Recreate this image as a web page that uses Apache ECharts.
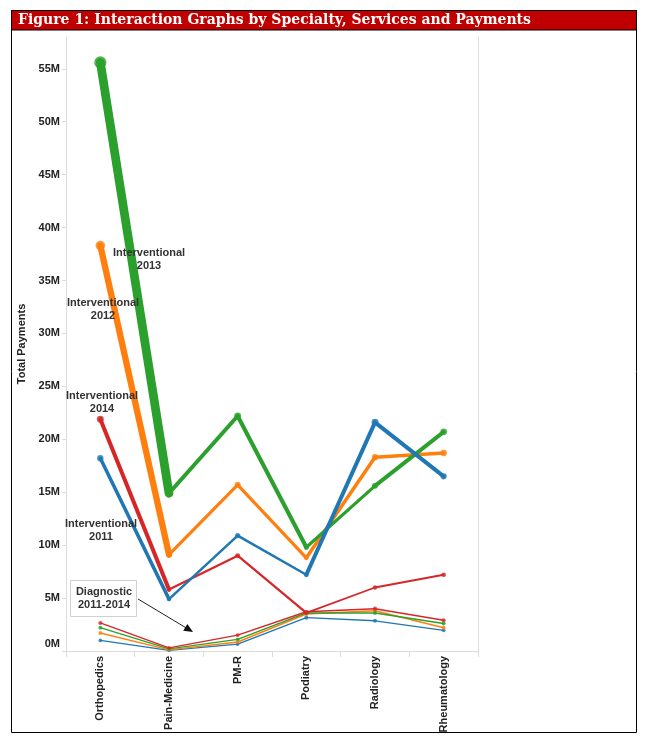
<!DOCTYPE html>
<html lang="en">
<head>
    <meta charset="UTF-8">
    <title>Interaction Graphs by Specialty, Services and Payments</title>
    <script src="https://cdn.jsdelivr.net/npm/echarts@6/dist/echarts.min.js"></script>
    <style>
        html, body { margin: 0; padding: 0; background: #fff; }
        #graph { width: 646px; height: 744px; }
    </style>
</head>
<body>
    <div id="graph"></div>

    <script>
        // values in millions of dollars
        var categories = ['Orthopedics', 'Pain-Medicine', 'PM-R', 'Podiatry', 'Radiology', 'Rheumatology'];
        var interventional2011 = [18.2, 4.9, 10.9, 7.2, 21.6, 16.5];
        var interventional2012 = [38.3, 9.1, 15.7, 8.8, 18.3, 18.7];
        var interventional2013 = [55.6, 14.9, 22.2, 9.8, 15.6, 20.7];
        var interventional2014 = [21.9, 5.8, 9.0, 3.6, 6.0, 7.2];
        var diagnostic2011 = [1.0, 0.05, 0.65, 3.15, 2.85, 1.95];
        var diagnostic2012 = [1.7, 0.1, 0.85, 3.5, 3.8, 2.2];
        var diagnostic2013 = [2.2, 0.2, 1.1, 3.6, 3.6, 2.6];
        var diagnostic2014 = [2.65, 0.3, 1.5, 3.7, 4.0, 2.9];

        var blue = '#1f77b4', orange = '#ff7f0e', green = '#2ca02c', red = '#d62728';

        var lines = [
            {name: 'Diagnostic 2011', data: diagnostic2011, color: blue},
            {name: 'Diagnostic 2012', data: diagnostic2012, color: orange},
            {name: 'Diagnostic 2013', data: diagnostic2013, color: green},
            {name: 'Diagnostic 2014', data: diagnostic2014, color: red},
            {name: 'Interventional 2014', data: interventional2014, color: red},
            {name: 'Interventional 2012', data: interventional2012, color: orange},
            {name: 'Interventional 2013', data: interventional2013, color: green},
            {name: 'Interventional 2011', data: interventional2011, color: blue}
        ];

        // tableau-like size encoding: width grows with payment
        function sizeOf(v) {
            return 1.1 + v * 0.155;
        }

        var s = [];
        lines.forEach(function (l, k) {
            for (var i = 0; i < l.data.length - 1; i++) {
                var seg = l.data.map(function (v, j) {
                    return (j === i || j === i + 1) ? v : null;
                });
                s.push({
                    name: l.name,
                    type: 'line',
                    data: seg,
                    showSymbol: false,
                    silent: true,
                    z: 2 + k,
                    lineStyle: {
                        color: l.color,
                        width: Math.max(1.3, 0.9 * sizeOf(Math.max(l.data[i], l.data[i + 1]))),
                        cap: 'round',
                        join: 'round'
                    }
                });
            }
            s.push({
                name: l.name,
                type: 'scatter',
                data: l.data,
                z: 2 + k,
                symbolSize: function (v) { return sizeOf(v) + 2.5; },
                itemStyle: {color: l.color}
            });
        });

        var labelFont = 'bold 11px "Liberation Sans", Arial, sans-serif';

        var myChart = echarts.init(document.getElementById('graph'));
        var option = {
            animation: false,
            title: {
                text: 'Figure 1: Interaction Graphs by Specialty, Services and Payments',
                left: 14,
                top: 10,
                padding: [2, 4],
                textStyle: {
                    color: '#fff',
                    fontFamily: '"DejaVu Serif", "Liberation Serif", serif',
                    fontWeight: 'bold',
                    fontSize: 14,
                    lineHeight: 17
                }
            },
            grid: {left: 66, right: 168, top: 37, bottom: 93},
            xAxis: {
                type: 'category',
                data: categories,
                boundaryGap: true,
                axisLine: {lineStyle: {color: '#dcdcdc'}},
                axisTick: {show: true, length: 6, lineStyle: {color: '#dcdcdc'}},
                axisLabel: {
                    rotate: 90,
                    margin: 5,
                    color: '#222',
                    fontFamily: '"Liberation Sans", Arial, sans-serif',
                    fontWeight: 'bold',
                    fontSize: 11
                }
            },
            yAxis: [{
                type: 'value',
                min: 0,
                max: 58,
                interval: 5,
                name: 'Total Payments',
                nameLocation: 'middle',
                nameGap: 31,
                nameRotate: 90,
                nameTextStyle: {
                    color: '#222',
                    fontFamily: '"Liberation Sans", Arial, sans-serif',
                    fontWeight: 'bold',
                    fontSize: 11
                },
                splitLine: {show: false},
                axisLine: {show: true, lineStyle: {color: '#dcdcdc'}},
                axisTick: {show: true, length: 4, lineStyle: {color: '#dcdcdc'}},
                axisLabel: {
                    showMaxLabel: false,
                    margin: 6,
                    color: '#222',
                    fontFamily: '"Liberation Sans", Arial, sans-serif',
                    fontWeight: 'bold',
                    fontSize: 11,
                    formatter: function (v) {
                        if (v % 5 !== 0) return '';
                        if (v === 0) return '{z|0M}';
                        return v + 'M';
                    },
                    rich: {
                        z: {
                            padding: [0, 0, 14, 0],
                            color: '#222',
                            fontFamily: '"Liberation Sans", Arial, sans-serif',
                            fontWeight: 'bold',
                            fontSize: 11
                        }
                    }
                }
            }, {
                type: 'value',
                position: 'right',
                min: 0,
                max: 58,
                axisLine: {show: true, lineStyle: {color: '#dcdcdc'}},
                axisTick: {show: false},
                axisLabel: {show: false},
                splitLine: {show: false}
            }],
            graphic: [
                {type: 'rect', z: -1, shape: {x: 11.5, y: 10.5, width: 625, height: 722},
                    style: {fill: '#fff', stroke: '#000', lineWidth: 1}},
                {type: 'rect', z: 0, shape: {x: 11.5, y: 10.5, width: 625, height: 19.5},
                    style: {fill: '#c00000', stroke: '#000', lineWidth: 1}},
                {type: 'text', z: 100, style: {text: 'Interventional\n2013', x: 149, y: 246,
                    textAlign: 'center', font: labelFont, fill: '#333', lineHeight: 13}},
                {type: 'text', z: 100, style: {text: 'Interventional\n2012', x: 103, y: 296,
                    textAlign: 'center', font: labelFont, fill: '#333', lineHeight: 13}},
                {type: 'text', z: 100, style: {text: 'Interventional\n2014', x: 102, y: 389,
                    textAlign: 'center', font: labelFont, fill: '#333', lineHeight: 13}},
                {type: 'text', z: 100, style: {text: 'Interventional\n2011', x: 101, y: 517,
                    textAlign: 'center', font: labelFont, fill: '#333', lineHeight: 13}},
                {type: 'rect', z: 100, shape: {x: 70.5, y: 580.5, width: 66, height: 36},
                    style: {fill: '#fff', stroke: '#d0d0d0', lineWidth: 1}},
                {type: 'text', z: 101, style: {text: 'Diagnostic\n2011-2014', x: 104, y: 585,
                    textAlign: 'center', font: labelFont, fill: '#333', lineHeight: 13}},
                {type: 'line', z: 100, shape: {x1: 138, y1: 599, x2: 188, y2: 629},
                    style: {stroke: '#222', lineWidth: 1}},
                {type: 'polygon', z: 100, shape: {points: [[193, 632], [183.2, 630.8], [187.4, 624.0]]},
                    style: {fill: '#111'}}
            ],
            series: s
        };
        myChart.setOption(option);
    </script>
</body>
</html>
